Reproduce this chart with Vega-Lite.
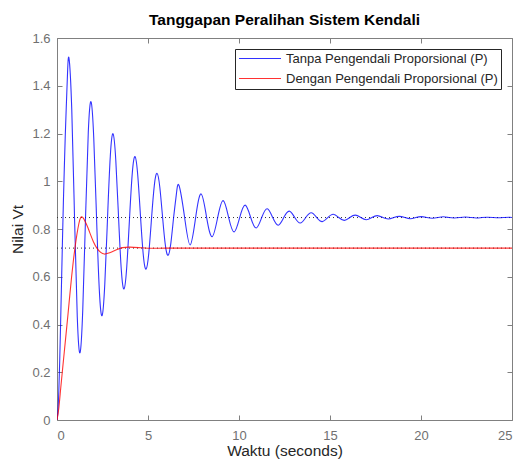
{
  "$schema": "https://vega.github.io/schema/vega-lite/v6.json",
  "width": 455,
  "height": 382,
  "autosize": {"type": "none"},
  "padding": {"left": 57, "top": 38, "right": 9, "bottom": 48},
  "background": "white",
  "title": {"text": "Tanggapan Peralihan Sistem Kendali", "fontSize": 15.5, "fontWeight": "bold", "font": "Liberation Sans", "color": "#000000", "baseline": "alphabetic", "offset": -8, "anchor": "middle"},
  "config": {
    "font": "Liberation Sans",
    "view": {"stroke": "#808080", "strokeWidth": 1},
    "axis": {
      "domain": false,
      "labelFont": "Liberation Sans",
      "labelFontSize": 13,
      "labelColor": "#707070",
      "titleFont": "Liberation Sans",
      "titleFontSize": 15.5,
      "titleFontWeight": "normal",
      "titleColor": "#262626",
      "gridColor": "#e0e0e0",
      "gridWidth": 1,
      "tickColor": "#808080",
      "tickSize": -5
    },
    "legend": {
      "orient": "top-right",
      "offset": 11,
      "strokeColor": "#262626",
      "fillColor": "#ffffff",
      "padding": 3,
      "rowPadding": 6,
      "clipHeight": 13,
      "labelFont": "Liberation Sans",
      "labelFontSize": 13,
      "labelColor": "#262626",
      "labelOffset": 4,
      "labelLimit": 400,
      "symbolType": "stroke",
      "symbolSize": 1764,
      "symbolStrokeWidth": 1.2
    }
  },
  "datasets": {
    "ss": [
      {"t": 0, "v": 0.848, "k": "a"}, {"t": 25, "v": 0.848, "k": "a"},
      {"t": 0, "v": 0.72, "k": "b"}, {"t": 25, "v": 0.72, "k": "b"}
    ],
    "resp": [
      {"s": "Tanpa Pengendali Proporsional (P)", "t": 0, "v": 0},
      {"s": "Tanpa Pengendali Proporsional (P)", "t": 0.05, "v": 0.035},
      {"s": "Tanpa Pengendali Proporsional (P)", "t": 0.1, "v": 0.12},
      {"s": "Tanpa Pengendali Proporsional (P)", "t": 0.15, "v": 0.25},
      {"s": "Tanpa Pengendali Proporsional (P)", "t": 0.2, "v": 0.41},
      {"s": "Tanpa Pengendali Proporsional (P)", "t": 0.25, "v": 0.58},
      {"s": "Tanpa Pengendali Proporsional (P)", "t": 0.3, "v": 0.75},
      {"s": "Tanpa Pengendali Proporsional (P)", "t": 0.35, "v": 0.91},
      {"s": "Tanpa Pengendali Proporsional (P)", "t": 0.4, "v": 1.05},
      {"s": "Tanpa Pengendali Proporsional (P)", "t": 0.45, "v": 1.18},
      {"s": "Tanpa Pengendali Proporsional (P)", "t": 0.509, "v": 1.31},
      {"s": "Tanpa Pengendali Proporsional (P)", "t": 0.58, "v": 1.455},
      {"s": "Tanpa Pengendali Proporsional (P)", "t": 0.66, "v": 1.515},
      {"s": "Tanpa Pengendali Proporsional (P)", "t": 0.811, "v": 1.301},
      {"s": "Tanpa Pengendali Proporsional (P)", "t": 0.9625, "v": 0.848},
      {"s": "Tanpa Pengendali Proporsional (P)", "t": 1.114, "v": 0.431},
      {"s": "Tanpa Pengendali Proporsional (P)", "t": 1.265, "v": 0.282},
      {"s": "Tanpa Pengendali Proporsional (P)", "t": 1.416, "v": 0.463},
      {"s": "Tanpa Pengendali Proporsional (P)", "t": 1.5675, "v": 0.848},
      {"s": "Tanpa Pengendali Proporsional (P)", "t": 1.719, "v": 1.205},
      {"s": "Tanpa Pengendali Proporsional (P)", "t": 1.87, "v": 1.333},
      {"s": "Tanpa Pengendali Proporsional (P)", "t": 2.021, "v": 1.178},
      {"s": "Tanpa Pengendali Proporsional (P)", "t": 2.1725, "v": 0.848},
      {"s": "Tanpa Pengendali Proporsional (P)", "t": 2.324, "v": 0.546},
      {"s": "Tanpa Pengendali Proporsional (P)", "t": 2.475, "v": 0.437},
      {"s": "Tanpa Pengendali Proporsional (P)", "t": 2.626, "v": 0.569},
      {"s": "Tanpa Pengendali Proporsional (P)", "t": 2.7775, "v": 0.848},
      {"s": "Tanpa Pengendali Proporsional (P)", "t": 2.929, "v": 1.106},
      {"s": "Tanpa Pengendali Proporsional (P)", "t": 3.08, "v": 1.199},
      {"s": "Tanpa Pengendali Proporsional (P)", "t": 3.231, "v": 1.087},
      {"s": "Tanpa Pengendali Proporsional (P)", "t": 3.3825, "v": 0.848},
      {"s": "Tanpa Pengendali Proporsional (P)", "t": 3.534, "v": 0.628},
      {"s": "Tanpa Pengendali Proporsional (P)", "t": 3.685, "v": 0.549},
      {"s": "Tanpa Pengendali Proporsional (P)", "t": 3.836, "v": 0.645},
      {"s": "Tanpa Pengendali Proporsional (P)", "t": 3.9875, "v": 0.848},
      {"s": "Tanpa Pengendali Proporsional (P)", "t": 4.139, "v": 1.036},
      {"s": "Tanpa Pengendali Proporsional (P)", "t": 4.29, "v": 1.103},
      {"s": "Tanpa Pengendali Proporsional (P)", "t": 4.441, "v": 1.021},
      {"s": "Tanpa Pengendali Proporsional (P)", "t": 4.5925, "v": 0.848},
      {"s": "Tanpa Pengendali Proporsional (P)", "t": 4.744, "v": 0.689},
      {"s": "Tanpa Pengendali Proporsional (P)", "t": 4.895, "v": 0.632},
      {"s": "Tanpa Pengendali Proporsional (P)", "t": 5.046, "v": 0.701},
      {"s": "Tanpa Pengendali Proporsional (P)", "t": 5.1975, "v": 0.848},
      {"s": "Tanpa Pengendali Proporsional (P)", "t": 5.349, "v": 0.984},
      {"s": "Tanpa Pengendali Proporsional (P)", "t": 5.5, "v": 1.033},
      {"s": "Tanpa Pengendali Proporsional (P)", "t": 5.651, "v": 0.974},
      {"s": "Tanpa Pengendali Proporsional (P)", "t": 5.8025, "v": 0.848},
      {"s": "Tanpa Pengendali Proporsional (P)", "t": 5.954, "v": 0.732},
      {"s": "Tanpa Pengendali Proporsional (P)", "t": 6.105, "v": 0.69},
      {"s": "Tanpa Pengendali Proporsional (P)", "t": 6.256, "v": 0.741},
      {"s": "Tanpa Pengendali Proporsional (P)", "t": 6.4075, "v": 0.848},
      {"s": "Tanpa Pengendali Proporsional (P)", "t": 6.559, "v": 0.946},
      {"s": "Tanpa Pengendali Proporsional (P)", "t": 6.71, "v": 0.981},
      {"s": "Tanpa Pengendali Proporsional (P)", "t": 7.0125, "v": 0.848},
      {"s": "Tanpa Pengendali Proporsional (P)", "t": 7.315, "v": 0.733},
      {"s": "Tanpa Pengendali Proporsional (P)", "t": 7.6175, "v": 0.848},
      {"s": "Tanpa Pengendali Proporsional (P)", "t": 7.92, "v": 0.947},
      {"s": "Tanpa Pengendali Proporsional (P)", "t": 8.2225, "v": 0.848},
      {"s": "Tanpa Pengendali Proporsional (P)", "t": 8.525, "v": 0.768},
      {"s": "Tanpa Pengendali Proporsional (P)", "t": 8.8275, "v": 0.848},
      {"s": "Tanpa Pengendali Proporsional (P)", "t": 9.13, "v": 0.919},
      {"s": "Tanpa Pengendali Proporsional (P)", "t": 9.4325, "v": 0.848},
      {"s": "Tanpa Pengendali Proporsional (P)", "t": 9.735, "v": 0.788},
      {"s": "Tanpa Pengendali Proporsional (P)", "t": 10.0375, "v": 0.848},
      {"s": "Tanpa Pengendali Proporsional (P)", "t": 10.34, "v": 0.9},
      {"s": "Tanpa Pengendali Proporsional (P)", "t": 10.6425, "v": 0.848},
      {"s": "Tanpa Pengendali Proporsional (P)", "t": 10.945, "v": 0.804},
      {"s": "Tanpa Pengendali Proporsional (P)", "t": 11.2475, "v": 0.848},
      {"s": "Tanpa Pengendali Proporsional (P)", "t": 11.55, "v": 0.885},
      {"s": "Tanpa Pengendali Proporsional (P)", "t": 11.8525, "v": 0.848},
      {"s": "Tanpa Pengendali Proporsional (P)", "t": 12.155, "v": 0.816},
      {"s": "Tanpa Pengendali Proporsional (P)", "t": 12.4575, "v": 0.848},
      {"s": "Tanpa Pengendali Proporsional (P)", "t": 12.76, "v": 0.875},
      {"s": "Tanpa Pengendali Proporsional (P)", "t": 13.0625, "v": 0.848},
      {"s": "Tanpa Pengendali Proporsional (P)", "t": 13.365, "v": 0.825},
      {"s": "Tanpa Pengendali Proporsional (P)", "t": 13.6675, "v": 0.848},
      {"s": "Tanpa Pengendali Proporsional (P)", "t": 13.97, "v": 0.868},
      {"s": "Tanpa Pengendali Proporsional (P)", "t": 14.2725, "v": 0.848},
      {"s": "Tanpa Pengendali Proporsional (P)", "t": 14.575, "v": 0.831},
      {"s": "Tanpa Pengendali Proporsional (P)", "t": 14.8775, "v": 0.848},
      {"s": "Tanpa Pengendali Proporsional (P)", "t": 15.18, "v": 0.862},
      {"s": "Tanpa Pengendali Proporsional (P)", "t": 15.4825, "v": 0.848},
      {"s": "Tanpa Pengendali Proporsional (P)", "t": 15.785, "v": 0.836},
      {"s": "Tanpa Pengendali Proporsional (P)", "t": 16.0875, "v": 0.848},
      {"s": "Tanpa Pengendali Proporsional (P)", "t": 16.39, "v": 0.858},
      {"s": "Tanpa Pengendali Proporsional (P)", "t": 16.6925, "v": 0.848},
      {"s": "Tanpa Pengendali Proporsional (P)", "t": 16.995, "v": 0.839},
      {"s": "Tanpa Pengendali Proporsional (P)", "t": 17.2975, "v": 0.848},
      {"s": "Tanpa Pengendali Proporsional (P)", "t": 17.6, "v": 0.856},
      {"s": "Tanpa Pengendali Proporsional (P)", "t": 17.9025, "v": 0.848},
      {"s": "Tanpa Pengendali Proporsional (P)", "t": 18.205, "v": 0.842},
      {"s": "Tanpa Pengendali Proporsional (P)", "t": 18.5075, "v": 0.848},
      {"s": "Tanpa Pengendali Proporsional (P)", "t": 18.81, "v": 0.853},
      {"s": "Tanpa Pengendali Proporsional (P)", "t": 19.1125, "v": 0.848},
      {"s": "Tanpa Pengendali Proporsional (P)", "t": 19.415, "v": 0.843},
      {"s": "Tanpa Pengendali Proporsional (P)", "t": 19.7175, "v": 0.848},
      {"s": "Tanpa Pengendali Proporsional (P)", "t": 20.02, "v": 0.852},
      {"s": "Tanpa Pengendali Proporsional (P)", "t": 20.3225, "v": 0.848},
      {"s": "Tanpa Pengendali Proporsional (P)", "t": 20.625, "v": 0.845},
      {"s": "Tanpa Pengendali Proporsional (P)", "t": 20.9275, "v": 0.848},
      {"s": "Tanpa Pengendali Proporsional (P)", "t": 21.23, "v": 0.851},
      {"s": "Tanpa Pengendali Proporsional (P)", "t": 21.5325, "v": 0.848},
      {"s": "Tanpa Pengendali Proporsional (P)", "t": 21.835, "v": 0.846},
      {"s": "Tanpa Pengendali Proporsional (P)", "t": 22.1375, "v": 0.848},
      {"s": "Tanpa Pengendali Proporsional (P)", "t": 22.44, "v": 0.85},
      {"s": "Tanpa Pengendali Proporsional (P)", "t": 22.7425, "v": 0.848},
      {"s": "Tanpa Pengendali Proporsional (P)", "t": 23.045, "v": 0.846},
      {"s": "Tanpa Pengendali Proporsional (P)", "t": 23.3475, "v": 0.848},
      {"s": "Tanpa Pengendali Proporsional (P)", "t": 23.65, "v": 0.849},
      {"s": "Tanpa Pengendali Proporsional (P)", "t": 23.9525, "v": 0.848},
      {"s": "Tanpa Pengendali Proporsional (P)", "t": 24.255, "v": 0.847},
      {"s": "Tanpa Pengendali Proporsional (P)", "t": 24.5575, "v": 0.848},
      {"s": "Tanpa Pengendali Proporsional (P)", "t": 24.86, "v": 0.849},
      {"s": "Tanpa Pengendali Proporsional (P)", "t": 25, "v": 0.848},
      {"s": "Dengan Pengendali Proporsional (P)", "t": 0, "v": 0},
      {"s": "Dengan Pengendali Proporsional (P)", "t": 0.1, "v": 0.05},
      {"s": "Dengan Pengendali Proporsional (P)", "t": 0.2, "v": 0.13},
      {"s": "Dengan Pengendali Proporsional (P)", "t": 0.3, "v": 0.208},
      {"s": "Dengan Pengendali Proporsional (P)", "t": 0.4, "v": 0.285},
      {"s": "Dengan Pengendali Proporsional (P)", "t": 0.5, "v": 0.362},
      {"s": "Dengan Pengendali Proporsional (P)", "t": 0.6, "v": 0.44},
      {"s": "Dengan Pengendali Proporsional (P)", "t": 0.7, "v": 0.52},
      {"s": "Dengan Pengendali Proporsional (P)", "t": 0.8, "v": 0.598},
      {"s": "Dengan Pengendali Proporsional (P)", "t": 0.9, "v": 0.668},
      {"s": "Dengan Pengendali Proporsional (P)", "t": 1.0, "v": 0.727},
      {"s": "Dengan Pengendali Proporsional (P)", "t": 1.1, "v": 0.78},
      {"s": "Dengan Pengendali Proporsional (P)", "t": 1.2, "v": 0.822},
      {"s": "Dengan Pengendali Proporsional (P)", "t": 1.3, "v": 0.848},
      {"s": "Dengan Pengendali Proporsional (P)", "t": 1.4, "v": 0.85},
      {"s": "Dengan Pengendali Proporsional (P)", "t": 1.5, "v": 0.839},
      {"s": "Dengan Pengendali Proporsional (P)", "t": 1.6, "v": 0.823},
      {"s": "Dengan Pengendali Proporsional (P)", "t": 1.7, "v": 0.805},
      {"s": "Dengan Pengendali Proporsional (P)", "t": 1.8, "v": 0.785},
      {"s": "Dengan Pengendali Proporsional (P)", "t": 2.0, "v": 0.747},
      {"s": "Dengan Pengendali Proporsional (P)", "t": 2.2, "v": 0.719},
      {"s": "Dengan Pengendali Proporsional (P)", "t": 2.4, "v": 0.702},
      {"s": "Dengan Pengendali Proporsional (P)", "t": 2.6, "v": 0.695},
      {"s": "Dengan Pengendali Proporsional (P)", "t": 2.8, "v": 0.698},
      {"s": "Dengan Pengendali Proporsional (P)", "t": 3.0, "v": 0.704},
      {"s": "Dengan Pengendali Proporsional (P)", "t": 3.3, "v": 0.714},
      {"s": "Dengan Pengendali Proporsional (P)", "t": 3.6, "v": 0.722},
      {"s": "Dengan Pengendali Proporsional (P)", "t": 4.0, "v": 0.724},
      {"s": "Dengan Pengendali Proporsional (P)", "t": 4.5, "v": 0.722},
      {"s": "Dengan Pengendali Proporsional (P)", "t": 5.0, "v": 0.7195},
      {"s": "Dengan Pengendali Proporsional (P)", "t": 5.5, "v": 0.7193},
      {"s": "Dengan Pengendali Proporsional (P)", "t": 6.0, "v": 0.7199},
      {"s": "Dengan Pengendali Proporsional (P)", "t": 8.0, "v": 0.72},
      {"s": "Dengan Pengendali Proporsional (P)", "t": 12.0, "v": 0.72},
      {"s": "Dengan Pengendali Proporsional (P)", "t": 25.0, "v": 0.72}
    ]
  },
  "layer": [
    {
      "data": {"name": "ss"},
      "mark": {"type": "line", "strokeDash": [1, 3], "color": "#333333", "strokeWidth": 1},
      "encoding": {
        "x": {"field": "t", "type": "quantitative", "scale": {"domain": [0, 25], "nice": false, "zero": false},
              "axis": {"orient": "top", "labels": false, "title": null, "grid": false, "values": [0, 5, 10, 15, 20, 25]}},
        "y": {"field": "v", "type": "quantitative", "scale": {"domain": [0, 1.6], "nice": false, "zero": false},
              "axis": {"orient": "right", "labels": false, "title": null, "grid": false, "values": [0, 0.2, 0.4, 0.6, 0.8, 1, 1.2, 1.4, 1.6]}},
        "detail": {"field": "k", "type": "nominal"}
      }
    },
    {
      "data": {"name": "resp"},
      "mark": {"type": "line", "interpolate": "natural", "strokeWidth": 1.1, "opacity": 0.8, "clip": true},
      "encoding": {
        "x": {"field": "t", "type": "quantitative",
              "axis": {"orient": "bottom", "title": "Waktu (seconds)", "values": [0, 5, 10, 15, 20, 25], "labelPadding": 14, "titleBaseline": "alphabetic", "titleY": 35.5}},
        "y": {"field": "v", "type": "quantitative",
              "axis": {"orient": "left", "title": "Nilai Vt", "values": [0, 0.2, 0.4, 0.6, 0.8, 1, 1.2, 1.4, 1.6], "format": "~g", "labelPadding": 12, "titleX": -40, "titleY": 191, "titleAngle": -90, "titleAlign": "center", "titleBaseline": "middle"}},
        "color": {"field": "s", "type": "nominal", "title": null,
                  "scale": {"domain": ["Tanpa Pengendali Proporsional (P)", "Dengan Pengendali Proporsional (P)"], "range": ["#0000ff", "#ff0000"]}}
      }
    }
  ],
  "resolve": {"axis": {"x": "independent", "y": "independent"}}
}
